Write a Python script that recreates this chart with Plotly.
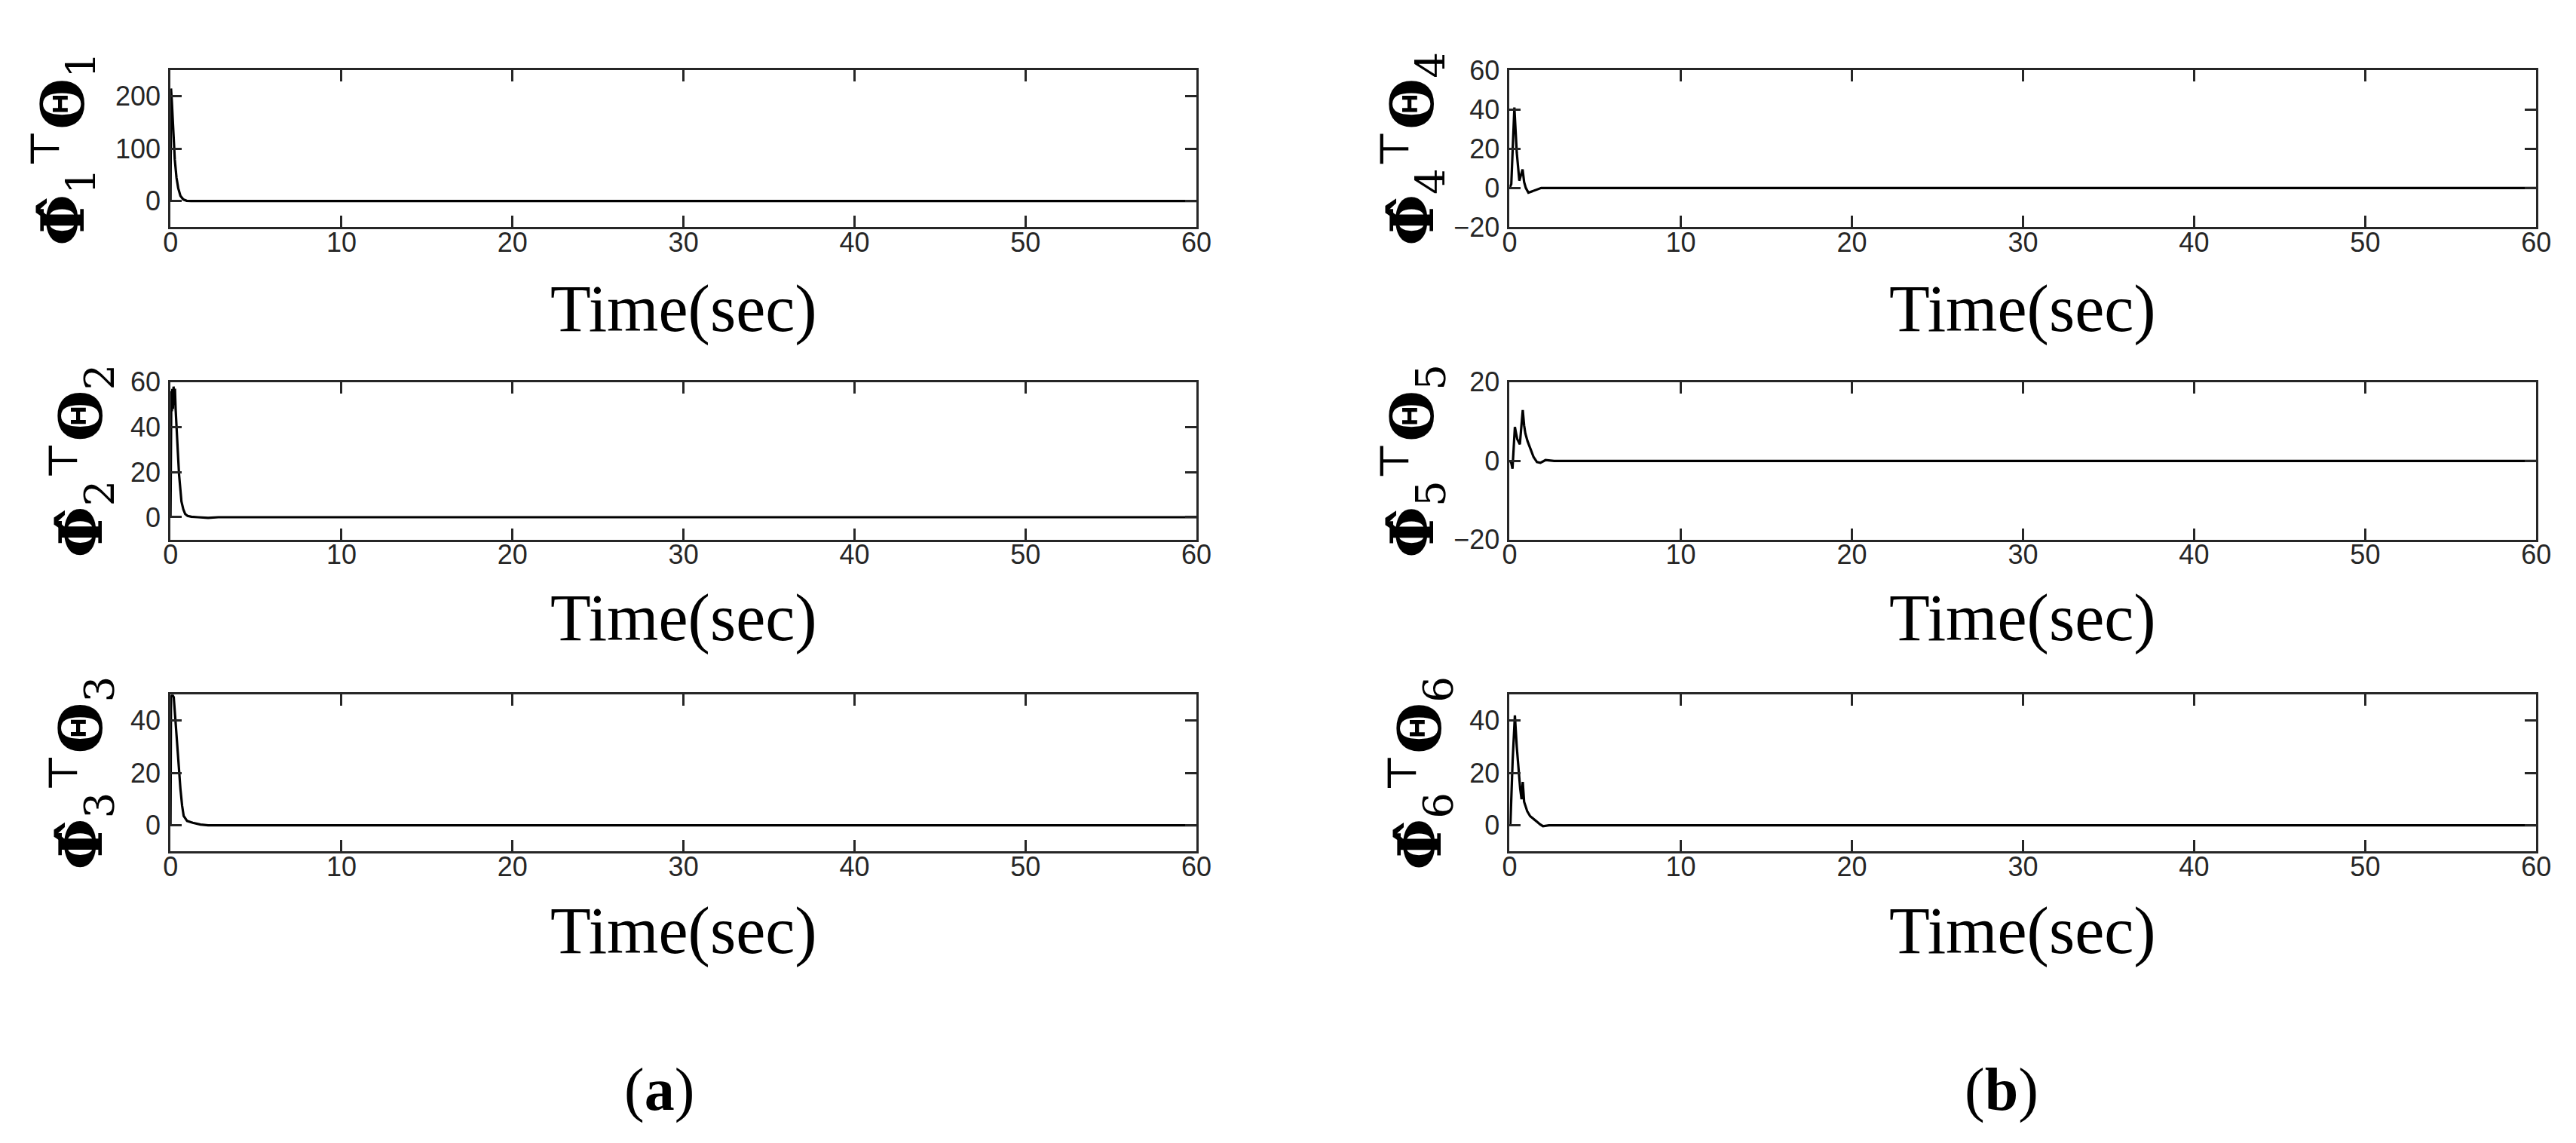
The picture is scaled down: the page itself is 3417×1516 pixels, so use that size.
import plotly.graph_objects as go

# time (sec) and estimated values
t1 = [0, 0.03, 0.08, 0.15, 0.25, 0.35, 0.45, 0.58, 0.75, 0.95, 1.2, 60]
v1 = [0, 215, 190, 135, 80, 45, 25, 10, 3, 0.5, 0, 0]

t2 = [0, 0.02, 0.05, 0.08, 0.11, 0.14, 0.18, 0.22, 0.26, 0.3, 0.36, 0.43, 0.5,
      0.57, 0.64, 0.75, 0.86, 1.0, 1.22, 1.6, 2.2, 2.8, 60]
v2 = [0, 50, 56, 47, 57, 48, 58, 50, 57, 48, 41, 29, 19,
      12, 7, 3.5, 1.4, 0.6, 0.2, 0, -0.3, 0, 0]

t3 = [0, 0.03, 0.1, 0.19, 0.28, 0.38, 0.48, 0.58, 0.68, 0.77, 0.97, 1.3, 1.75, 2.2, 60]
v3 = [0, 49, 50, 49, 41, 32, 22, 14, 7.5, 3.6, 1.7, 1, 0.3, 0, 0]

t4 = [0, 0.1, 0.28, 0.42, 0.57, 0.68, 0.76, 0.85, 0.95, 1.1, 1.4, 1.66, 1.85, 60]
v4 = [0, 2, 41, 18, 3.7, 7, 9.5, 3, 0, -2.4, -1.5, -0.4, 0, 0]

t5 = [0, 0.1, 0.17, 0.24, 0.31, 0.38, 0.45, 0.6, 0.7, 0.77, 0.85, 0.92, 1.05,
      1.21, 1.4, 1.6, 1.8, 2.1, 2.6, 60]
v5 = [0, -0.5, -2, 3, 8.6, 7, 5.5, 4.2, 9, 12.9, 9, 7, 5,
      3.2, 1, -0.3, -0.5, 0.2, 0, 0]

t6 = [0, 0.05, 0.18, 0.31, 0.42, 0.54, 0.62, 0.7, 0.77, 0.85, 0.95, 1.03, 1.2,
      1.42, 1.62, 1.8, 1.95, 2.3, 60]
v6 = [0, 0.8, 25, 42, 30, 20, 14, 10, 16.6, 9, 6.5, 5.4, 3.5,
      2.2, 1.3, 0.3, -0.3, 0, 0]

x_ticks = [0, 10, 20, 30, 40, 50, 60]
y_ticks = [[0, 100, 200], [0, 20, 40, 60], [0, 20, 40],
           [-20, 0, 20, 40, 60], [-20, 0, 20], [0, 20, 40]]
y_ranges = [[-50, 250], [-10, 60], [-10, 50], [-20, 60], [-20, 20], [-10, 50]]

series = [(t1, v1), (t2, v2), (t3, v3), (t4, v4), (t5, v5), (t6, v6)]

W, H = 3417, 1516
cols = [[210 / W, 1583 / W], [2002 / W, 3376 / W]]
rows = [[1 - 281 / H, 1 - 67 / H], [1 - 707 / H, 1 - 492 / H], [1 - 1132 / H, 1 - 918 / H]]
title_y = [392, 813, 1240]
label_x = [[66, 90, 90], [1872, 1872, 1882]]

ax_col = '#262626'
tick_font = dict(family='Liberation Sans Narrow, Liberation Sans, Arial', size=36, color=ax_col)

fig = go.Figure()
annotations = []
for i, (t, v) in enumerate(series):
    c, r = i // 3, i % 3
    n = i + 1
    xa = 'x' if n == 1 else 'x%d' % n
    ya = 'y' if n == 1 else 'y%d' % n
    fig.add_trace(go.Scatter(x=t, y=v, mode='lines', line=dict(color='black', width=3.2),
                             xaxis=xa, yaxis=ya, showlegend=False))
    common = dict(showline=True, linecolor=ax_col, linewidth=3, mirror='ticks',
                  ticks='inside', ticklen=15, tickwidth=2.5, tickcolor=ax_col,
                  showgrid=False, zeroline=False, tickfont=tick_font)
    fig.layout['xaxis' if n == 1 else 'xaxis%d' % n] = dict(
        domain=cols[c], anchor=ya, range=[0, 60], tickvals=x_ticks,
        ticklabelstandoff=-14, **common)
    fig.layout['yaxis' if n == 1 else 'yaxis%d' % n] = dict(
        domain=rows[r], anchor=xa, range=y_ranges[i], tickvals=y_ticks[i],
        ticklabelstandoff=3, **common)
    k = str(n)
    annotations.append(dict(
        text='<b>Φ̂</b><sub>%s</sub><sup>⊤</sup><b>Θ</b><sub>%s</sub>' % (k, k),
        textangle=-90, xref='paper', yref='paper',
        x=label_x[c][r] / W, y=sum(rows[r]) / 2, xanchor='center', yanchor='middle',
        showarrow=False, font=dict(family='DejaVu Serif', size=78, color='black')))
    annotations.append(dict(
        text='Time(sec)', xref='paper', yref='paper',
        x=sum(cols[c]) / 2, y=1 - title_y[r] / H, xanchor='center', yanchor='middle',
        showarrow=False, font=dict(family='Liberation Serif, DejaVu Serif', size=88, color='black')))

for txt, xp in [('(<b>a</b>)', 864), ('(<b>b</b>)', 2660)]:
    annotations.append(dict(text=txt, xref='paper', yref='paper', x=xp / W, y=1 - 1457 / H,
                            xanchor='center', yanchor='middle', showarrow=False,
                            font=dict(family='Liberation Serif, DejaVu Serif', size=80, color='black')))

fig.update_layout(width=W, height=H, margin=dict(l=0, r=0, t=0, b=0),
                  paper_bgcolor='white', plot_bgcolor='white', annotations=annotations)

fig.write_html("out.html")
